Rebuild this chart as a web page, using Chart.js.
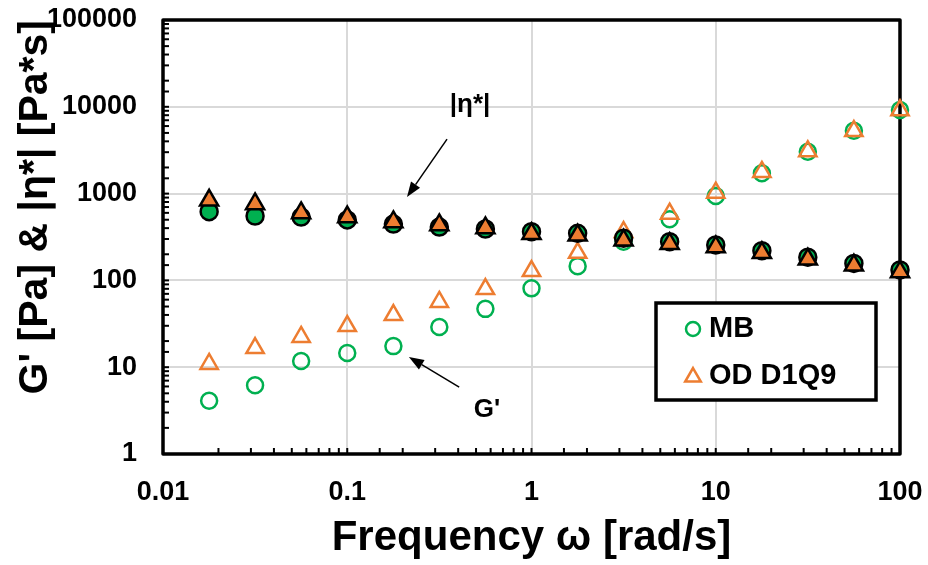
<!DOCTYPE html>
<html>
<head>
<meta charset="utf-8">
<script src="https://cdn.jsdelivr.net/npm/chart.js@4"></script>
<style>
  html, body { margin: 0; padding: 0; background: #fff; }
  canvas { display: block; }
</style>
</head>
<body>
<canvas id="chart" width="928" height="565"></canvas>
<script>
// angular frequency, rad/s
const freq = [0.0178, 0.0316, 0.0562, 0.1, 0.178, 0.316, 0.562, 1, 1.78, 3.16, 5.62, 10, 17.8, 31.6, 56.2, 100];
// storage modulus G' [Pa]
const gMB = [4.1, 6.2, 11.8, 14.6, 17.5, 29, 47, 81, 146, 279, 506, 938, 1714, 3040, 5305, 9190];
const gOD = [10.9, 16.6, 22.3, 29.8, 39.9, 56.4, 79.6, 128, 208, 361, 587, 1024, 1774, 3070, 5262, 9120];
// complex viscosity |eta*| [Pa*s]
const etaMB = [619, 552, 537, 497, 446, 412, 391, 364, 349, 306, 279, 256, 220, 185, 157, 132];
const etaOD = [837, 759, 598, 537, 471, 435, 402, 345, 331, 290, 265, 243, 208, 175, 149, 125];

const xTicks = [0.01, 0.1, 1, 10, 100];
const yTicks = [1, 10, 100, 1000, 10000, 100000];

const green = '#00b050';
const orange = '#ed7d31';
const FONT = '"Liberation Sans", Arial, sans-serif';

const pts = (ys) => freq.map((f, i) => ({x: f, y: ys[i]}));
const isMajor = (list, v) => list.some(t => Math.abs(t - v) / t < 1e-6);

function arrow(ctx, x0, y0, x1, y1) {
  const ang = Math.atan2(y1 - y0, x1 - x0);
  const len = 15, half = 5.5;
  const bx = x1 - len * Math.cos(ang), by = y1 - len * Math.sin(ang);
  ctx.beginPath();
  ctx.moveTo(x0, y0);
  ctx.lineTo(bx, by);
  ctx.stroke();
  ctx.beginPath();
  ctx.moveTo(x1, y1);
  ctx.lineTo(bx + half * Math.sin(ang), by - half * Math.cos(ang));
  ctx.lineTo(bx - half * Math.sin(ang), by + half * Math.cos(ang));
  ctx.closePath();
  ctx.fill();
}

// notes on the plot, in data units
const notes = [
  {text: '|η*|', at: [0.464, 10500], from: [0.348, 4240], to: [0.211, 915]},
  {text: "G'", at: [0.573, 3.2], from: [0.405, 5.9], to: [0.216, 13.1]}
];

const extras = {
  id: 'extras',
  beforeDatasetsDraw(chart) {
    const {ctx, chartArea: a, scales: {x, y}} = chart;
    ctx.save();
    ctx.strokeStyle = '#000';
    ctx.lineWidth = 2;
    x.ticks.forEach(t => {
      const px = x.getPixelForValue(t.value);
      ctx.beginPath(); ctx.moveTo(px, a.bottom); ctx.lineTo(px, a.bottom - 6); ctx.stroke();
    });
    y.ticks.forEach(t => {
      const py = y.getPixelForValue(t.value);
      ctx.beginPath(); ctx.moveTo(a.left, py); ctx.lineTo(a.left + 6, py); ctx.stroke();
    });
    ctx.lineWidth = 3.5;
    ctx.lineJoin = 'round';
    ctx.strokeRect(a.left, a.top, a.right - a.left, a.bottom - a.top);
    ctx.restore();
  },
  afterDatasetsDraw(chart) {
    const {ctx, scales: {x, y}} = chart;
    ctx.save();
    ctx.fillStyle = '#000';
    ctx.strokeStyle = '#000';
    ctx.lineWidth = 1.5;
    ctx.font = 'bold 26px ' + FONT;
    ctx.textAlign = 'center';
    ctx.textBaseline = 'middle';
    notes.forEach(n => {
      ctx.fillText(n.text, x.getPixelForValue(n.at[0]), y.getPixelForValue(n.at[1]));
      arrow(ctx, x.getPixelForValue(n.from[0]), y.getPixelForValue(n.from[1]),
        x.getPixelForValue(n.to[0]), y.getPixelForValue(n.to[1]));
    });

    // legend box
    const lx = 656, ly = 303, lw = 220, lh = 97;
    ctx.fillStyle = '#fff';
    ctx.fillRect(lx, ly, lw, lh);
    ctx.lineWidth = 3.5;
    ctx.strokeRect(lx, ly, lw, lh);
    ctx.lineWidth = 2.5;
    ctx.strokeStyle = green;
    ctx.beginPath(); ctx.arc(lx + 37, ly + 26, 7, 0, Math.PI * 2); ctx.stroke();
    ctx.strokeStyle = orange;
    const tx = lx + 37, ty = ly + 74, r = 9;
    ctx.beginPath();
    ctx.moveTo(tx, ty - r);
    ctx.lineTo(tx + r * 0.866, ty + r * 0.5);
    ctx.lineTo(tx - r * 0.866, ty + r * 0.5);
    ctx.closePath();
    ctx.stroke();
    ctx.fillStyle = '#000';
    ctx.font = 'bold 29px ' + FONT;
    ctx.textAlign = 'left';
    ctx.fillText('MB', lx + 53, ly + 26);
    ctx.fillText('OD D1Q9', lx + 53, ly + 73);
    ctx.restore();
  }
};

const base = {showLine: false, clip: false, pointBorderWidth: 2.5};

new Chart(document.getElementById('chart'), {
  type: 'scatter',
  data: {
    datasets: [
      {...base, label: 'MB', data: pts(gMB), order: 4, pointStyle: 'circle', pointRadius: 8,
        pointBorderColor: green, pointBackgroundColor: 'rgba(0,0,0,0)'},
      {...base, label: 'OD D1Q9', data: pts(gOD), order: 3, pointStyle: 'triangle', pointRadius: 10,
        pointBorderColor: orange, pointBackgroundColor: 'rgba(0,0,0,0)'},
      {...base, label: 'MB |η*|', data: pts(etaMB), order: 2, pointStyle: 'circle', pointRadius: 8.5,
        pointBorderColor: '#000', pointBackgroundColor: green},
      {...base, label: 'OD D1Q9 |η*|', data: pts(etaOD), order: 1, pointStyle: 'triangle', pointRadius: 10.5,
        pointBorderColor: '#000', pointBackgroundColor: orange}
    ]
  },
  options: {
    responsive: false,
    animation: false,
    layout: {padding: {top: 20, right: 28, left: 0, bottom: 0}},
    plugins: {legend: {display: false}, tooltip: {enabled: false}},
    scales: {
      x: {
        type: 'logarithmic',
        min: 0.01,
        max: 100,
        afterFit: s => { s.height = 111; s.paddingLeft = 0; s.paddingRight = 0; },
        border: {display: false},
        grid: {
          drawTicks: false,
          lineWidth: 2,
          color: c => isMajor(xTicks, c.tick.value) ? '#d9d9d9' : 'rgba(0,0,0,0)'
        },
        ticks: {
          autoSkip: false,
          maxRotation: 0,
          padding: 22,
          color: '#000',
          font: {family: FONT, size: 27, weight: 'bold'},
          callback: v => isMajor(xTicks, v) ? String(+v.toPrecision(6)) : ''
        },
        title: {
          display: true,
          text: 'Frequency ω [rad/s]',
          color: '#000',
          padding: {top: 0, bottom: 1},
          font: {family: FONT, size: 42, weight: 'bold'}
        }
      },
      y: {
        type: 'logarithmic',
        min: 1,
        max: 100000,
        afterFit: s => { s.width = 163; s.paddingTop = 0; s.paddingBottom = 0; },
        border: {display: false},
        grid: {
          drawTicks: false,
          lineWidth: 2,
          color: c => isMajor(yTicks, c.tick.value) ? '#d9d9d9' : 'rgba(0,0,0,0)'
        },
        ticks: {
          autoSkip: false,
          padding: 26,
          color: '#000',
          font: {family: FONT, size: 27, weight: 'bold'},
          callback: v => isMajor(yTicks, v) ? String(+v.toPrecision(6)) : ''
        },
        title: {
          display: true,
          text: "G' [Pa] & |η*| [Pa*s]",
          align: 'end',
          color: '#000',
          padding: {top: 11, bottom: 0},
          font: {family: FONT, size: 41, weight: 'bold'}
        }
      }
    }
  },
  plugins: [extras]
});
</script>
</body>
</html>
